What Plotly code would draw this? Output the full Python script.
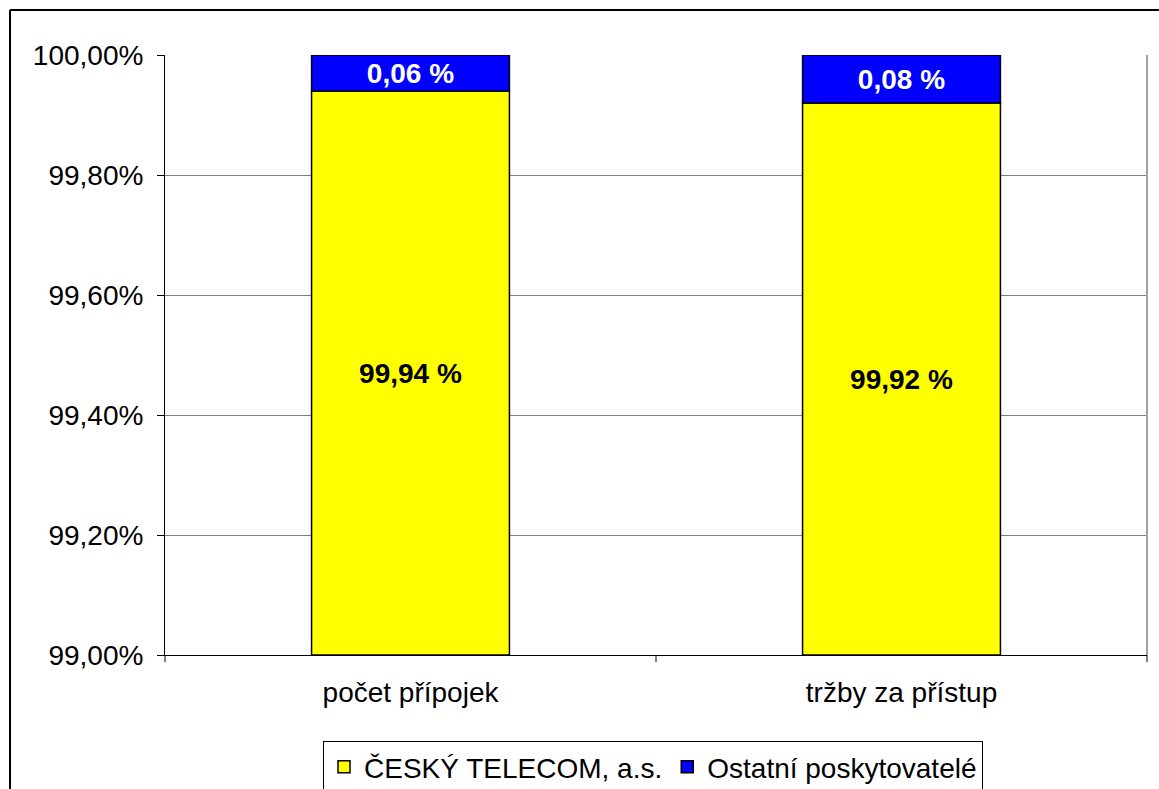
import plotly.graph_objects as go

categories = ["počet přípojek", "tržby za přístup"]
telecom = [99.94, 99.92]
ostatni = [0.06, 0.08]
telecom_labels = ["99,94 %", "99,92 %"]
ostatni_labels = ["0,06 %", "0,08 %"]
ytick_vals = [99.0, 99.2, 99.4, 99.6, 99.8, 100.0]
ytick_text = ["99,00%", "99,20%", "99,40%", "99,60%", "99,80%", "100,00%"]

axis_min = 99.0
FONT = "Liberation Sans, Arial, sans-serif"
FS = 28

L, R, T, B = 165, 12, 55, 134
W, H = 1159, 789
PW, PH = W - L - R, H - T - B

fig = go.Figure()
fig.add_trace(go.Bar(
    x=categories, y=[v - axis_min for v in telecom], base=[axis_min] * len(telecom),
    name="ČESKÝ TELECOM, a.s.", marker=dict(color="#FFFF00", line=dict(color="black", width=1.5)),
    text=telecom_labels, textposition="inside", insidetextanchor="middle",
    textfont=dict(family=FONT, size=FS, color="black", weight="bold"),
    width=0.403, hoverinfo="skip",
))
fig.add_trace(go.Bar(
    x=categories, y=ostatni, base=telecom,
    name="Ostatní poskytovatelé", marker=dict(color="#0000FF", line=dict(color="black", width=1.5)),
    text=ostatni_labels, textposition="inside", insidetextanchor="middle",
    textfont=dict(family=FONT, size=FS, color="white", weight="bold"),
    width=0.403, hoverinfo="skip",
))

fig.update_layout(
    width=W, height=H,
    margin=dict(l=L, r=R, t=T, b=B, autoexpand=False),
    paper_bgcolor="white", plot_bgcolor="white",
    barmode="overlay",
    font=dict(family=FONT, size=FS, color="black"),
    showlegend=True,
    uniformtext=dict(mode="show", minsize=FS),
    legend=dict(
        orientation="h", x=(653 - L) / PW, xanchor="center", y=(T + PH - 741) / PH, yanchor="top",
        bordercolor="black", borderwidth=1, font=dict(size=FS, family=FONT),
        traceorder="normal", itemwidth=30,
    ),
    xaxis=dict(
        showline=True, linecolor="black", linewidth=1, automargin=False,
        ticks="", showgrid=False, tickfont=dict(size=FS), ticklabelstandoff=12,
    ),
    yaxis=dict(
        range=[99.0, 100.0], tickvals=ytick_vals, ticktext=ytick_text,
        showline=True, linecolor="black", linewidth=1, automargin=False,
        ticks="outside", ticklen=7, tickcolor="black",
        showgrid=True, gridcolor="#808080", gridwidth=1,
        tickfont=dict(size=FS), zeroline=False, ticklabelstandoff=8,
    ),
    shapes=[
        dict(type="line", xref="paper", yref="paper", x0=1, x1=1, y0=0, y1=1,
             line=dict(color="#A0A0A0", width=2)),
        dict(type="line", xref="x domain", yref="y domain", x0=0, x1=0, y0=0, y1=-7 / PH,
             line=dict(color="black", width=1)),
        dict(type="line", xref="x domain", yref="y domain", x0=0.5, x1=0.5, y0=0, y1=-7 / PH,
             line=dict(color="black", width=1)),
        dict(type="line", xref="x domain", yref="y domain", x0=1, x1=1, y0=0, y1=-7 / PH,
             line=dict(color="black", width=1)),
        dict(type="line", xref="paper", yref="paper", x0=(10 - L) / PW, x1=(10 - L) / PW,
             y0=1 + (T - 10) / PH, y1=-2, line=dict(color="black", width=2)),
        dict(type="line", xref="paper", yref="paper", x0=(10 - L) / PW, x1=1.5,
             y0=1 + (T - 10) / PH, y1=1 + (T - 10) / PH, line=dict(color="black", width=2)),
    ],
)

fig.write_html("out.html", config={"displayModeBar": False},
               post_script="document.body.style.margin='0';document.body.style.overflow='hidden';")
